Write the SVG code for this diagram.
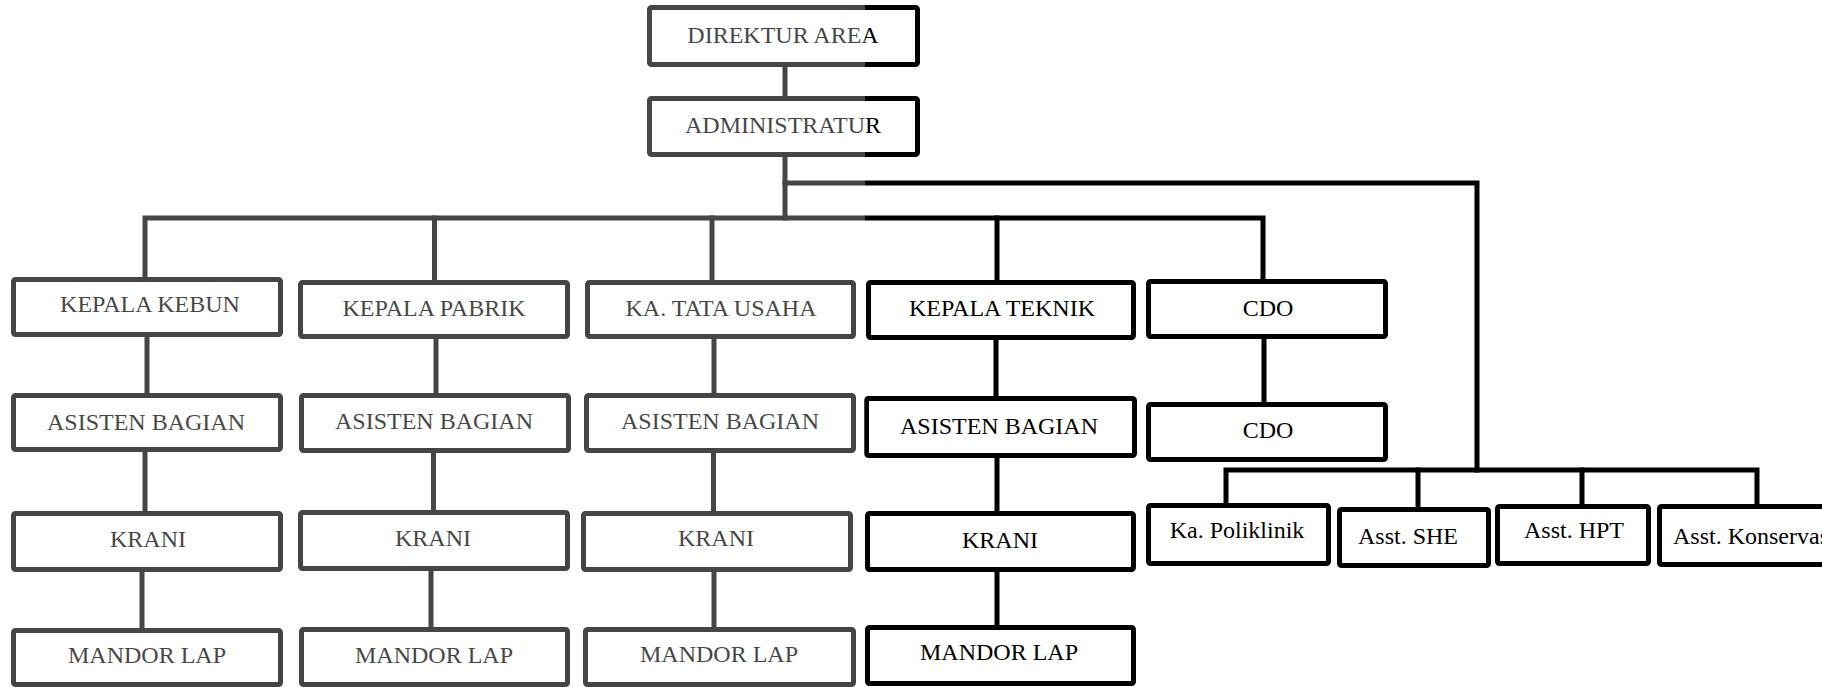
<svg xmlns="http://www.w3.org/2000/svg" width="1822" height="687" viewBox="0 0 1822 687">
<style>
.box{fill:#fff;stroke:#000;stroke-width:5;}
.t{font-family:'Liberation Serif','Tinos','Noto Serif','DejaVu Serif',serif;font-size:24px;fill:#000;text-anchor:middle;}
.ln{fill:none;stroke:#000;stroke-width:5;stroke-linejoin:miter;stroke-linecap:square;}
</style>
<rect x="0" y="0" width="1822" height="687" fill="#fff"/>
<g id="connectors">
<path class="ln" d="M785,67 V96"/>
<path class="ln" d="M785,157 V218"/>
<path class="ln" d="M145,276 V218 H1263 V278"/>
<path class="ln" d="M434.5,218 V279"/>
<path class="ln" d="M712,218 V279"/>
<path class="ln" d="M997,218 V279"/>
<path class="ln" d="M785,183 H1477 V470"/>
<path class="ln" d="M1226,502 V470 H1757 V503"/>
<path class="ln" d="M1418,470 V506"/>
<path class="ln" d="M1582,470 V503"/>
<path class="ln" d="M147,337 V392"/>
<path class="ln" d="M145,452 V510"/>
<path class="ln" d="M142,572 V627"/>
<path class="ln" d="M436,339 V392"/>
<path class="ln" d="M433.5,453 V509"/>
<path class="ln" d="M431,571 V626"/>
<path class="ln" d="M714,339 V392"/>
<path class="ln" d="M713.5,453 V510"/>
<path class="ln" d="M714,572 V626"/>
<path class="ln" d="M996,340 V395"/>
<path class="ln" d="M997,458 V510"/>
<path class="ln" d="M997,572 V624"/>
<path class="ln" d="M1264,339 V401"/>
</g>
<g id="direktur"><rect class="box" x="649.5" y="7.5" width="268" height="57" rx="2"/><text class="t" x="783" y="43">DIREKTUR AREA</text></g>
<g id="administratur"><rect class="box" x="649.5" y="98.5" width="268" height="56" rx="2"/><text class="t" x="783" y="133">ADMINISTRATUR</text></g>

<g id="kepala-kebun"><rect class="box" x="13.5" y="279.5" width="267" height="55" rx="2"/><text class="t" x="150" y="312">KEPALA KEBUN</text></g>
<g id="kepala-pabrik"><rect class="box" x="300.5" y="282.5" width="267" height="54" rx="2"/><text class="t" x="434" y="316">KEPALA PABRIK</text></g>
<g id="ka-tata-usaha"><rect class="box" x="587.5" y="282.5" width="266" height="54" rx="2"/><text class="t" x="721" y="316">KA. TATA USAHA</text></g>
<g id="kepala-teknik"><rect class="box" x="868.5" y="282.5" width="265" height="55" rx="2"/><text class="t" x="1002" y="316">KEPALA TEKNIK</text></g>
<g id="cdo-1"><rect class="box" x="1148.5" y="281.5" width="237" height="55" rx="2"/><text class="t" x="1268" y="316">CDO</text></g>

<g id="asisten-1"><rect class="box" x="13.5" y="395.5" width="267" height="54" rx="2"/><text class="t" x="146" y="430">ASISTEN BAGIAN</text></g>
<g id="asisten-2"><rect class="box" x="301.5" y="395.5" width="267" height="55" rx="2"/><text class="t" x="434" y="429">ASISTEN BAGIAN</text></g>
<g id="asisten-3"><rect class="box" x="586.5" y="395.5" width="267" height="55" rx="2"/><text class="t" x="720" y="429">ASISTEN BAGIAN</text></g>
<g id="asisten-4"><rect class="box" x="866.5" y="398.5" width="268" height="57" rx="2"/><text class="t" x="999" y="434">ASISTEN BAGIAN</text></g>
<g id="cdo-2"><rect class="box" x="1148.5" y="404.5" width="237" height="55" rx="2"/><text class="t" x="1268" y="438">CDO</text></g>

<g id="krani-1"><rect class="box" x="13.5" y="513.5" width="267" height="56" rx="2"/><text class="t" x="148" y="547">KRANI</text></g>
<g id="krani-2"><rect class="box" x="300.5" y="512.5" width="267" height="56" rx="2"/><text class="t" x="433" y="546">KRANI</text></g>
<g id="krani-3"><rect class="box" x="583.5" y="513.5" width="267" height="56" rx="2"/><text class="t" x="716" y="546">KRANI</text></g>
<g id="krani-4"><rect class="box" x="867.5" y="513.5" width="266" height="56" rx="2"/><text class="t" x="1000" y="548">KRANI</text></g>

<g id="mandor-1"><rect class="box" x="13.5" y="630.5" width="267" height="54" rx="2"/><text class="t" x="147" y="663">MANDOR LAP</text></g>
<g id="mandor-2"><rect class="box" x="301.5" y="629.5" width="266" height="55" rx="2"/><text class="t" x="434" y="663">MANDOR LAP</text></g>
<g id="mandor-3"><rect class="box" x="585.5" y="629.5" width="268" height="55" rx="2"/><text class="t" x="719" y="662">MANDOR LAP</text></g>
<g id="mandor-4"><rect class="box" x="867.5" y="627.5" width="266" height="56" rx="2"/><text class="t" x="999" y="660">MANDOR LAP</text></g>

<g id="ka-poliklinik"><rect class="box" x="1148.5" y="505.5" width="180" height="58" rx="2"/><text class="t" x="1237" y="538">Ka. Poliklinik</text></g>
<g id="asst-she"><rect class="box" x="1339.5" y="509.5" width="149" height="56" rx="2"/><text class="t" x="1408" y="544">Asst. SHE</text></g>
<g id="asst-hpt"><rect class="box" x="1497.5" y="506.5" width="151" height="57" rx="2"/><text class="t" x="1574" y="538">Asst. HPT</text></g>
<g id="asst-konservasi"><rect class="box" x="1659.5" y="506.5" width="170" height="58" rx="2"/><text class="t" x="1673" y="544" style="text-anchor:start">Asst. Konservasi</text></g>

<rect id="watermark-tint" x="0" y="0" width="865" height="687" fill="#fff" fill-opacity="0.27"/>
</svg>
